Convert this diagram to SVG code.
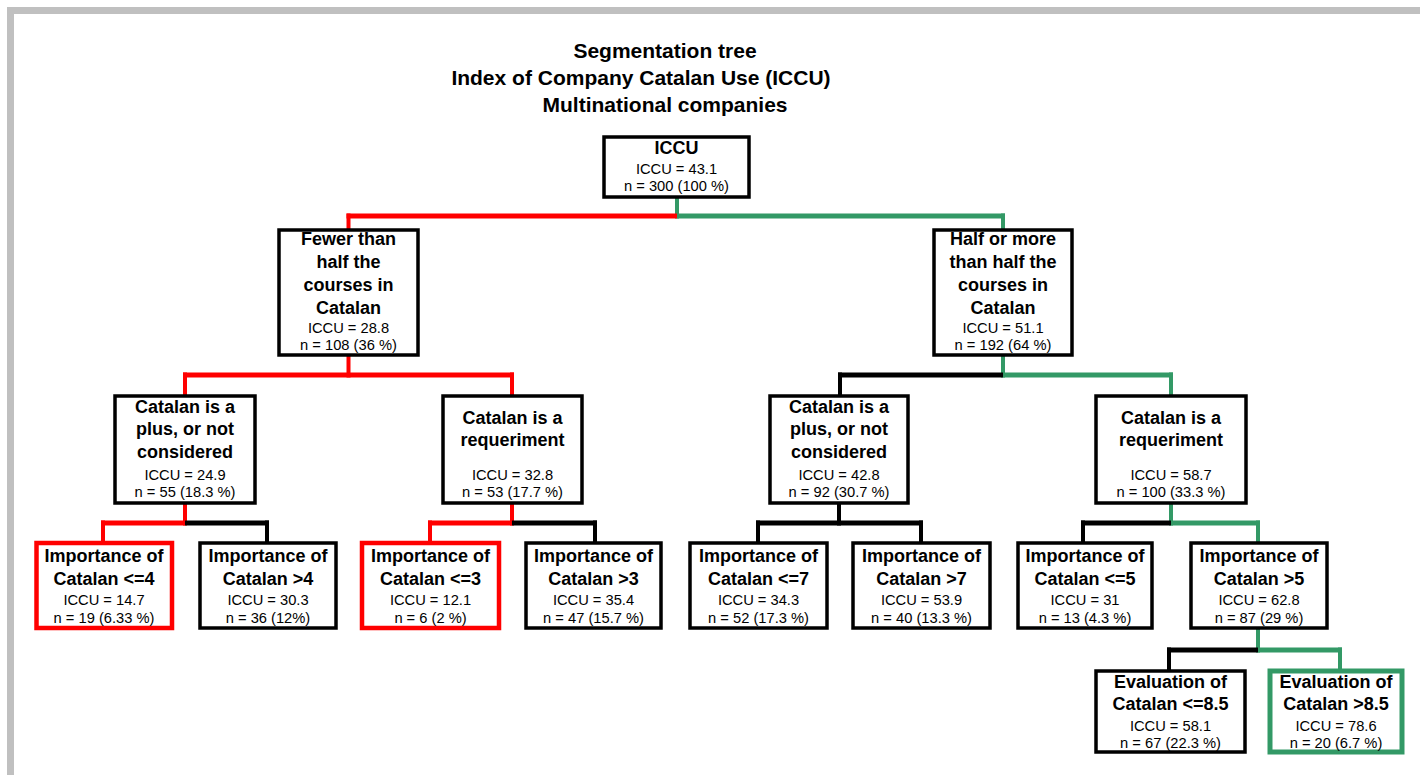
<svg xmlns="http://www.w3.org/2000/svg" width="1420" height="775" viewBox="0 0 1420 775">
<style>
text{font-family:"Liberation Sans",Arial,sans-serif;fill:#000;text-anchor:middle}
.t{font-size:21px;font-weight:bold}
.h{font-size:18px;font-weight:bold}
.v{font-size:14.7px}
.box{fill:#fff;stroke:#000;stroke-width:3.5}
.box.red{stroke:#ff0000;stroke-width:4.5}
.box.grn{stroke:#339966;stroke-width:5}
.c line{fill:none}
.r{stroke:#ff0000}
.g{stroke:#339966}
.k{stroke:#000}
.hz{stroke-width:5}
.vt{stroke-width:4}
</style>
<rect x="10.5" y="10.5" width="1430" height="800" fill="#fff" stroke="#c0c0c0" stroke-width="7"/>
<g id="title">
<text class="t" x="665" y="58">Segmentation tree</text>
<text class="t" x="641" y="85">Index of Company Catalan Use (ICCU)</text>
<text class="t" x="665" y="112">Multinational companies</text>
</g>
<g id="connectors" class="c">
<!-- root -->
<line class="g vt" x1="677" y1="197" x2="677" y2="218.5"/>
<line class="r hz" x1="346.5" y1="216" x2="677" y2="216"/>
<line class="g hz" x1="677" y1="216" x2="1005" y2="216"/>
<line class="r vt" x1="348.5" y1="213.5" x2="348.5" y2="230"/>
<line class="g vt" x1="1003" y1="213.5" x2="1003" y2="230"/>
<!-- level 1 left -->
<line class="r vt" x1="348.5" y1="355" x2="348.5" y2="377.5"/>
<line class="r hz" x1="183" y1="375" x2="514" y2="375"/>
<line class="r vt" x1="185" y1="372.5" x2="185" y2="396"/>
<line class="r vt" x1="512" y1="372.5" x2="512" y2="396"/>
<!-- level 1 right -->
<line class="g vt" x1="1003" y1="355" x2="1003" y2="377.5"/>
<line class="k hz" x1="838" y1="375" x2="1003" y2="375"/>
<line class="g hz" x1="1003" y1="375" x2="1173" y2="375"/>
<line class="k vt" x1="840" y1="372.5" x2="840" y2="396"/>
<line class="g vt" x1="1171" y1="372.5" x2="1171" y2="396"/>
<!-- level 2 a -->
<line class="r vt" x1="185" y1="503" x2="185" y2="525.5"/>
<line class="r hz" x1="101" y1="523" x2="185" y2="523"/>
<line class="k hz" x1="185" y1="523" x2="269" y2="523"/>
<line class="r vt" x1="103" y1="520.5" x2="103" y2="543"/>
<line class="k vt" x1="267" y1="520.5" x2="267" y2="543"/>
<!-- level 2 b -->
<line class="r vt" x1="512" y1="503" x2="512" y2="525.5"/>
<line class="r hz" x1="428" y1="523" x2="512" y2="523"/>
<line class="k hz" x1="512" y1="523" x2="597" y2="523"/>
<line class="r vt" x1="430" y1="520.5" x2="430" y2="543"/>
<line class="k vt" x1="595" y1="520.5" x2="595" y2="543"/>
<!-- level 2 c -->
<line class="k vt" x1="839" y1="503" x2="839" y2="525.5"/>
<line class="k hz" x1="756" y1="523" x2="923" y2="523"/>
<line class="k vt" x1="758" y1="520.5" x2="758" y2="543"/>
<line class="k vt" x1="921" y1="520.5" x2="921" y2="543"/>
<!-- level 2 d -->
<line class="g vt" x1="1171" y1="503" x2="1171" y2="525.5"/>
<line class="k hz" x1="1081" y1="523" x2="1171" y2="523"/>
<line class="g hz" x1="1171" y1="523" x2="1260" y2="523"/>
<line class="k vt" x1="1083" y1="520.5" x2="1083" y2="543"/>
<line class="g vt" x1="1258" y1="520.5" x2="1258" y2="543"/>
<!-- level 3 -->
<line class="g vt" x1="1258" y1="628" x2="1258" y2="652.5"/>
<line class="k hz" x1="1167" y1="650" x2="1258" y2="650"/>
<line class="g hz" x1="1258" y1="650" x2="1342" y2="650"/>
<line class="k vt" x1="1169" y1="647.5" x2="1169" y2="671"/>
<line class="g vt" x1="1340" y1="647.5" x2="1340" y2="671"/>
</g>
<g id="n0">
<rect class="box" x="604" y="137" width="145" height="60"/>
<text class="h" x="676.5" y="154">ICCU</text>
<text class="v" x="676.5" y="174">ICCU = 43.1</text>
<text class="v" x="676.5" y="191">n = 300 (100 %)</text>
</g>
<g id="n1">
<rect class="box" x="279" y="230" width="139" height="125"/>
<text class="h" x="348.5" y="245">Fewer than</text>
<text class="h" x="348.5" y="268">half the</text>
<text class="h" x="348.5" y="291">courses in</text>
<text class="h" x="348.5" y="314">Catalan</text>
<text class="v" x="348.5" y="333">ICCU = 28.8</text>
<text class="v" x="348.5" y="350">n = 108 (36 %)</text>
</g>
<g id="n2">
<rect class="box" x="934" y="230" width="138" height="125"/>
<text class="h" x="1003" y="245">Half or more</text>
<text class="h" x="1003" y="268">than half the</text>
<text class="h" x="1003" y="291">courses in</text>
<text class="h" x="1003" y="314">Catalan</text>
<text class="v" x="1003" y="333">ICCU = 51.1</text>
<text class="v" x="1003" y="350">n = 192 (64 %)</text>
</g>
<g id="n3">
<rect class="box" x="115" y="396" width="140" height="107"/>
<text class="h" x="185" y="413">Catalan is a</text>
<text class="h" x="185" y="435">plus, or not</text>
<text class="h" x="185" y="458">considered</text>
<text class="v" x="185" y="480">ICCU = 24.9</text>
<text class="v" x="185" y="497">n = 55 (18.3 %)</text>
</g>
<g id="n4">
<rect class="box" x="443" y="396" width="139" height="107"/>
<text class="h" x="512.5" y="424">Catalan is a</text>
<text class="h" x="512.5" y="446">requeriment</text>
<text class="v" x="512.5" y="480">ICCU = 32.8</text>
<text class="v" x="512.5" y="497">n = 53 (17.7 %)</text>
</g>
<g id="n5">
<rect class="box" x="770" y="396" width="138" height="107"/>
<text class="h" x="839" y="413">Catalan is a</text>
<text class="h" x="839" y="435">plus, or not</text>
<text class="h" x="839" y="458">considered</text>
<text class="v" x="839" y="480">ICCU = 42.8</text>
<text class="v" x="839" y="497">n = 92 (30.7 %)</text>
</g>
<g id="n6">
<rect class="box" x="1096" y="396" width="150" height="107"/>
<text class="h" x="1171" y="424">Catalan is a</text>
<text class="h" x="1171" y="446">requeriment</text>
<text class="v" x="1171" y="480">ICCU = 58.7</text>
<text class="v" x="1171" y="497">n = 100 (33.3 %)</text>
</g>
<g id="n7">
<rect class="box red" x="36.5" y="543" width="135.5" height="85"/>
<text class="h" x="104" y="562">Importance of</text>
<text class="h" x="104" y="585">Catalan &lt;=4</text>
<text class="v" x="104" y="605">ICCU = 14.7</text>
<text class="v" x="104" y="623">n = 19 (6.33 %)</text>
</g>
<g id="n8">
<rect class="box" x="200" y="543" width="136" height="85"/>
<text class="h" x="268" y="562">Importance of</text>
<text class="h" x="268" y="585">Catalan &gt;4</text>
<text class="v" x="268" y="605">ICCU = 30.3</text>
<text class="v" x="268" y="623">n = 36 (12%)</text>
</g>
<g id="n9">
<rect class="box red" x="362" y="543" width="137" height="85"/>
<text class="h" x="430.5" y="562">Importance of</text>
<text class="h" x="430.5" y="585">Catalan &lt;=3</text>
<text class="v" x="430.5" y="605">ICCU = 12.1</text>
<text class="v" x="430.5" y="623">n = 6 (2 %)</text>
</g>
<g id="n10">
<rect class="box" x="526" y="543" width="135" height="85"/>
<text class="h" x="593.5" y="562">Importance of</text>
<text class="h" x="593.5" y="585">Catalan &gt;3</text>
<text class="v" x="593.5" y="605">ICCU = 35.4</text>
<text class="v" x="593.5" y="623">n = 47 (15.7 %)</text>
</g>
<g id="n11">
<rect class="box" x="690" y="543" width="137" height="85"/>
<text class="h" x="758.5" y="562">Importance of</text>
<text class="h" x="758.5" y="585">Catalan &lt;=7</text>
<text class="v" x="758.5" y="605">ICCU = 34.3</text>
<text class="v" x="758.5" y="623">n = 52 (17.3 %)</text>
</g>
<g id="n12">
<rect class="box" x="853" y="543" width="137" height="85"/>
<text class="h" x="921.5" y="562">Importance of</text>
<text class="h" x="921.5" y="585">Catalan &gt;7</text>
<text class="v" x="921.5" y="605">ICCU = 53.9</text>
<text class="v" x="921.5" y="623">n = 40 (13.3 %)</text>
</g>
<g id="n13">
<rect class="box" x="1018" y="543" width="134" height="85"/>
<text class="h" x="1085" y="562">Importance of</text>
<text class="h" x="1085" y="585">Catalan &lt;=5</text>
<text class="v" x="1085" y="605">ICCU = 31</text>
<text class="v" x="1085" y="623">n = 13 (4.3 %)</text>
</g>
<g id="n14">
<rect class="box" x="1191" y="543" width="136" height="85"/>
<text class="h" x="1259" y="562">Importance of</text>
<text class="h" x="1259" y="585">Catalan &gt;5</text>
<text class="v" x="1259" y="605">ICCU = 62.8</text>
<text class="v" x="1259" y="623">n = 87 (29 %)</text>
</g>
<g id="n15">
<rect class="box" x="1096" y="671" width="149" height="81"/>
<text class="h" x="1170.5" y="688">Evaluation of</text>
<text class="h" x="1170.5" y="710">Catalan &lt;=8.5</text>
<text class="v" x="1170.5" y="731">ICCU = 58.1</text>
<text class="v" x="1170.5" y="748">n = 67 (22.3 %)</text>
</g>
<g id="n16">
<rect class="box grn" x="1270" y="671" width="132" height="81"/>
<text class="h" x="1336" y="688">Evaluation of</text>
<text class="h" x="1336" y="710">Catalan &gt;8.5</text>
<text class="v" x="1336" y="731">ICCU = 78.6</text>
<text class="v" x="1336" y="748">n = 20 (6.7 %)</text>
</g>
</svg>
